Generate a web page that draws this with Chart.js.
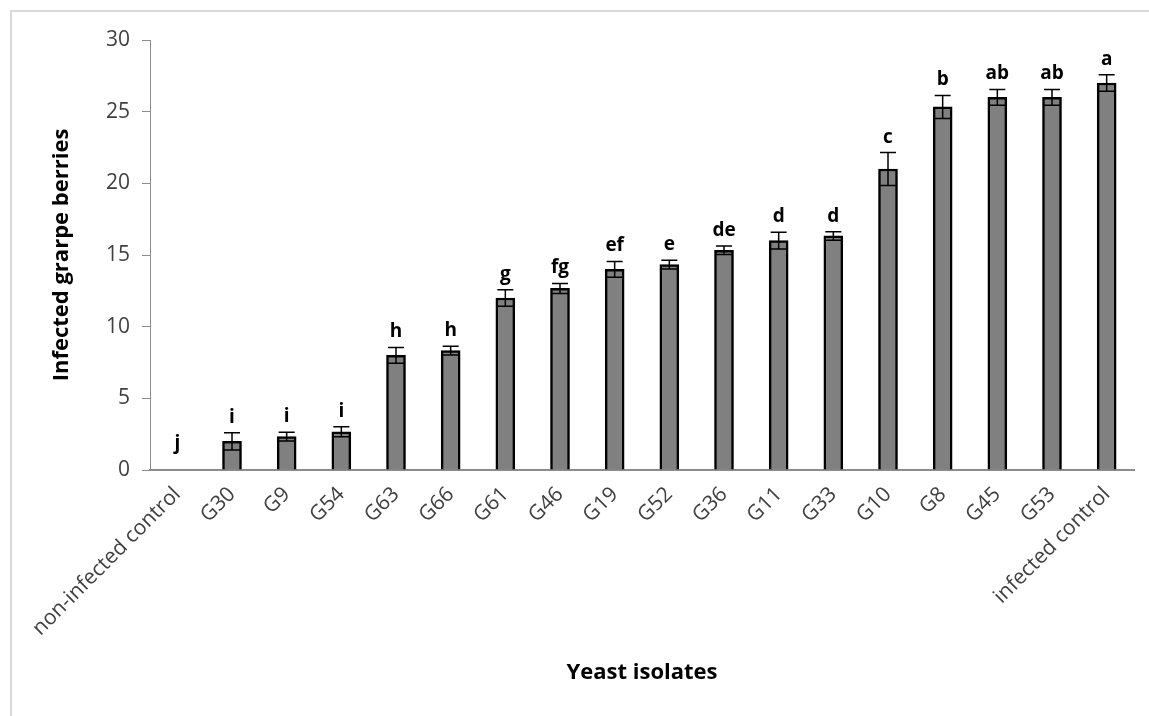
<!DOCTYPE html>
<html>
<head>
<meta charset="utf-8">
<script src="https://cdn.jsdelivr.net/npm/chart.js@4/dist/chart.umd.min.js"></script>
<style>
  html, body { margin: 0; padding: 0; background: #fff; }
  #wrap { position: relative; width: 1149px; height: 716px; }
</style>
</head>
<body>
<div id="wrap"><canvas id="chart" width="1149" height="716"></canvas></div>
<script>
// isolates on the x axis
const isolates = ['non-infected control', 'G30', 'G9', 'G54', 'G63', 'G66', 'G61', 'G46', 'G19',
  'G52', 'G36', 'G11', 'G33', 'G10', 'G8', 'G45', 'G53', 'infected control'];
// mean number of infected berries
const means = [0, 2, 2.33, 2.67, 8, 8.33, 12, 12.67, 14, 14.33, 15.33, 16, 16.33, 21, 25.33, 26, 26, 27];
// error bars (+/-)
const errors = [0, 0.6, 0.3, 0.35, 0.55, 0.3, 0.58, 0.35, 0.55, 0.3, 0.3, 0.58, 0.3, 1.15, 0.8, 0.55, 0.55, 0.58];
// significance letters
const letters = ['j', 'i', 'i', 'i', 'h', 'h', 'g', 'fg', 'ef', 'e', 'de', 'd', 'd', 'c', 'b', 'ab', 'ab', 'a'];

const FONT = "'Open Sans', 'DejaVu Sans', sans-serif";

// gray frame round the picture (top and left edges only)
const framePlugin = {
  id: 'frame',
  beforeDraw(chart) {
    const ctx = chart.ctx;
    ctx.save();
    ctx.strokeStyle = '#d9d9d9';
    ctx.lineWidth = 2;
    ctx.beginPath();
    ctx.moveTo(11, 716);
    ctx.lineTo(11, 11);
    ctx.lineTo(1149, 11);
    ctx.stroke();
    ctx.restore();
  }
};

// error bars and letters above the bars
const errorPlugin = {
  id: 'errorBars',
  afterDatasetsDraw(chart) {
    const ctx = chart.ctx;
    const y = chart.scales.y;
    const meta = chart.getDatasetMeta(0);
    ctx.save();
    meta.data.forEach((bar, i) => {
      const x = bar.x;
      const err = errors[i];
      const top = y.getPixelForValue(means[i] + err);
      if (err > 0) {
        const bot = y.getPixelForValue(means[i] - err);
        ctx.strokeStyle = '#000';
        ctx.lineWidth = 1.5;
        ctx.beginPath();
        ctx.moveTo(x, top); ctx.lineTo(x, bot);
        ctx.moveTo(x - 8, top); ctx.lineTo(x + 8, top);
        ctx.moveTo(x - 8, bot); ctx.lineTo(x + 8, bot);
        ctx.stroke();
      }
      const base = Math.min(top - 10, y.getPixelForValue(0) - 21);
      ctx.fillStyle = '#000';
      ctx.font = 'bold 19px ' + FONT;
      ctx.textAlign = 'center';
      ctx.textBaseline = 'alphabetic';
      ctx.fillText(letters[i], x, base);
    });
    ctx.restore();
  }
};

new Chart(document.getElementById('chart'), {
  type: 'bar',
  data: {
    labels: isolates,
    datasets: [{
      data: means,
      backgroundColor: '#808080',
      borderColor: '#000',
      borderWidth: 2.5,
      borderSkipped: 'start',
      barThickness: 19
    }]
  },
  options: {
    responsive: false,
    animation: false,
    layout: { padding: { left: 0, top: 40, right: 15, bottom: 0 } },
    plugins: { legend: { display: false }, tooltip: { enabled: false } },
    scales: {
      x: {
        afterFit: s => { s.height = 246; },
        grid: { display: false, drawTicks: false },
        border: { color: '#8c8c8c', width: 2 },
        ticks: {
          color: '#404040',
          font: { family: FONT, size: 21 },
          minRotation: 45, maxRotation: 45,
          padding: 12,
          autoSkip: false
        },
        title: {
          display: true, text: 'Yeast isolates', color: '#000',
          font: { family: FONT, size: 22, weight: 'bold' },
          padding: { top: 30, bottom: 30 }
        }
      },
      y: {
        min: 0, max: 30,
        afterFit: s => { s.width = 150; },
        grid: { display: true, drawOnChartArea: false, drawTicks: true, tickLength: 8, color: '#8c8c8c' },
        border: { color: '#8c8c8c', width: 1 },
        ticks: {
          stepSize: 5, color: '#404040',
          font: { family: FONT, size: 21 },
          padding: 12
        },
        title: {
          display: true, text: 'Infected grarpe berries', color: '#000',
          font: { family: FONT, size: 22, weight: 'bold' },
          padding: { top: 49, bottom: 49 }
        }
      }
    }
  },
  plugins: [framePlugin, errorPlugin]
});
</script>
</body>
</html>
